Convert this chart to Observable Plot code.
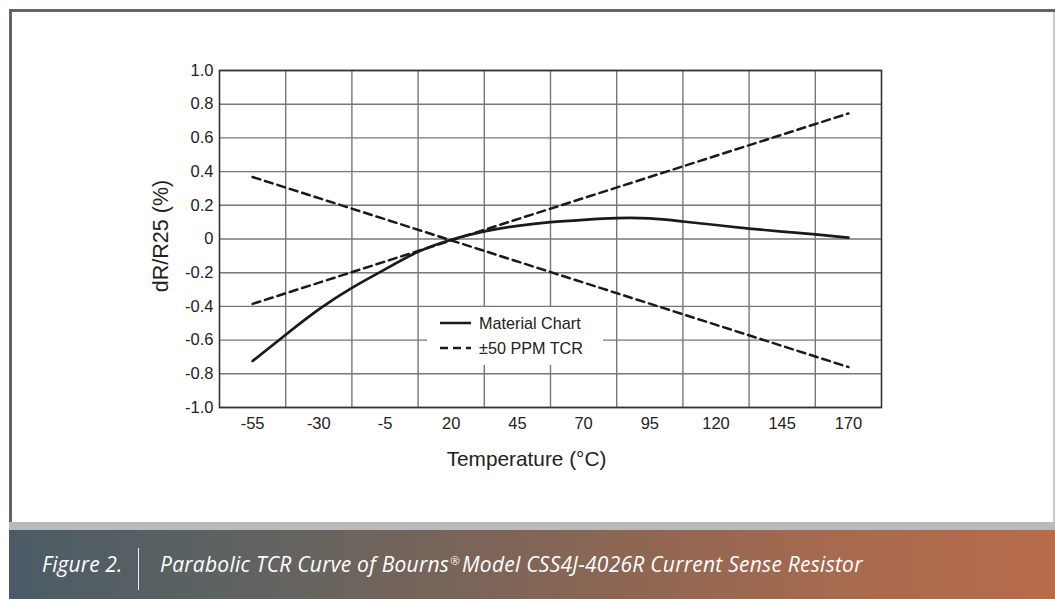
<!DOCTYPE html>
<html>
<head>
<meta charset="utf-8">
<script src="https://cdn.jsdelivr.net/npm/d3@7"></script>
<script src="https://cdn.jsdelivr.net/npm/@observablehq/plot@0.6"></script>
<style>
  html, body { margin: 0; padding: 0; background: #fff; }
  #wrap { position: relative; width: 1055px; height: 599px; overflow: hidden; background: #fff; }
  #frameTop { position: absolute; left: 9px; top: 9px; width: 1046px; height: 3px; background: #5e6569; }
  #frameLeft { position: absolute; left: 9px; top: 9px; width: 3px; height: 513px; background: #5e6569; }
  #frameRight { position: absolute; left: 1053px; top: 12px; width: 2px; height: 510px; background: #c8c9ca; }
  #greyBar { position: absolute; left: 9px; top: 522px; width: 1046px; height: 8px; background: #b9babb; }
  #band { position: absolute; left: 9px; top: 530px; width: 1046px; height: 69px;
    background: linear-gradient(to right, #4b5b65 0%, #5f6362 22%, #756459 40%, #8c6653 58%, #a56a4f 78%, #b86b49 100%); }
  #fig { position: absolute; left: 42px; top: 550px; color: #fff; font-family: "Open Sans", "Noto Sans", sans-serif;
    font-style: italic; font-size: 21px; letter-spacing: 0.1px; }
  #div { position: absolute; left: 138px; top: 548px; width: 1px; height: 42px; background: #f3eeea; }
  #cap { position: absolute; left: 160px; top: 550px; color: #fff; font-family: "Open Sans", "Noto Sans", sans-serif;
    font-style: italic; font-size: 21px; letter-spacing: 0.25px; white-space: nowrap; }
  #cap .reg { font-size: 0.55em; vertical-align: 0.6em; margin-left: 1px; margin-right: 2px; }
  #chart { position: absolute; left: 0; top: 0; }
  #legend { position: absolute; left: 427px; top: 307px; width: 176px; height: 58px; background: #fff;
    font-family: "Liberation Sans", Arial, Helvetica, sans-serif; font-size: 16.2px; color: #222; }
  .lg { position: absolute; left: 13px; height: 22px; display: flex; align-items: center; }
  .lg svg { margin-right: 8px; }
</style>
</head>
<body>
<div id="wrap">
  <div id="frameTop"></div>
  <div id="frameLeft"></div>
  <div id="frameRight"></div>
  <div id="chart"></div>
  <div id="legend"></div>
  <div id="greyBar"></div>
  <div id="band"></div>
  <div id="fig">Figure 2.</div>
  <div id="div"></div>
  <div id="cap">Parabolic TCR Curve of Bourns<span class="reg">®</span>Model CSS4J-4026R Current Sense Resistor</div>
</div>
<script>
// ---- data ----
const xTickLabels = [-55, -30, -5, 20, 45, 70, 95, 120, 145, 170];
const xGridLines = [-42.5, -17.5, 7.5, 32.5, 57.5, 82.5, 107.5, 132.5, 157.5];
const yTicks = [-1.0, -0.8, -0.6, -0.4, -0.2, 0, 0.2, 0.4, 0.6, 0.8, 1.0];

const materialTemp = [-55, -42.5, -30, -17.5, -5, 7.5, 20, 32.5, 45, 57.5, 70, 82.5, 95, 107.5, 120, 132.5, 145, 157.5, 170];
const materialValue = [-0.724, -0.568, -0.418, -0.29, -0.18, -0.076, -0.004, 0.045, 0.078, 0.100, 0.114, 0.124, 0.122, 0.104, 0.083, 0.062, 0.044, 0.027, 0.008];

const tcrTemp = [-55, 170];
const tcrPlus = [-0.385, 0.745];
const tcrMinus = [0.368, -0.76];

const legendLabels = ["Material Chart", "±50 PPM TCR"];
const xLabel = "Temperature (°C)";
const yLabel = "dR/R25 (%)";

// ---- build ----
const material = materialTemp.map((t, i) => ({t, v: materialValue[i]}));
const plus = tcrTemp.map((t, i) => ({t, v: tcrPlus[i]}));
const minus = tcrTemp.map((t, i) => ({t, v: tcrMinus[i]}));

const font = '"Liberation Sans", Arial, Helvetica, sans-serif';
const hyphenFmt = d => (d < 0 ? "-" : "") + Math.abs(d);
const yFmt = d => d === 0 ? "0" : (d < 0 ? "-" : "") + Math.abs(d).toFixed(1);

const chart = Plot.plot({
  width: 1055,
  height: 520,
  marginLeft: 219,
  marginRight: 174,
  marginTop: 70,
  marginBottom: 113,
  style: {fontFamily: font, fontSize: "16.5px", color: "#222", background: "transparent"},
  x: {domain: [-67.5, 182.5]},
  y: {domain: [-1, 1]},
  marks: [
    Plot.gridX(xGridLines, {stroke: "#777", strokeOpacity: 1, strokeWidth: 1.4}),
    Plot.gridY(yTicks, {stroke: "#777", strokeOpacity: 1, strokeWidth: 1.4}),
    Plot.frame({stroke: "#333", strokeWidth: 1.6}),
    Plot.axisX(xTickLabels, {tickSize: 0, tickPadding: 10, label: null, fill: "#222", fontSize: 16.5, tickFormat: hyphenFmt}),
    Plot.axisY(yTicks, {tickSize: 0, tickPadding: 6, label: null, fill: "#222", fontSize: 16.5, tickFormat: yFmt}),
    Plot.line(plus, {x: "t", y: "v", stroke: "#1a1a1a", strokeWidth: 2.5, strokeDasharray: "8,5"}),
    Plot.line(minus, {x: "t", y: "v", stroke: "#1a1a1a", strokeWidth: 2.5, strokeDasharray: "8,5"}),
    Plot.line(material, {x: "t", y: "v", curve: "natural", stroke: "#1a1a1a", strokeWidth: 2.7}),
    Plot.text([xLabel], {frameAnchor: "bottom", textAnchor: "middle", lineAnchor: "middle", dx: -24, dy: 52, fontSize: 20.8, fill: "#222"}),
    Plot.text([yLabel], {frameAnchor: "left", textAnchor: "middle", lineAnchor: "middle", dx: -58, dy: -3, rotate: -90, fontSize: 21.5, fill: "#222"})
  ]
});
document.getElementById("chart").appendChild(chart);

// legend
const legend = document.getElementById("legend");
legendLabels.forEach((name, i) => {
  const row = document.createElement("div");
  row.className = "lg";
  row.style.top = (i === 0 ? 5 : 30) + "px";
  const dash = i === 0 ? "" : 'stroke-dasharray="8,5"';
  row.innerHTML = `<svg width="31" height="6"><line x1="0" y1="3" x2="31" y2="3" stroke="#1a1a1a" stroke-width="2.5" ${dash}/></svg><span>${name}</span>`;
  legend.appendChild(row);
});
</script>
</body>
</html>
